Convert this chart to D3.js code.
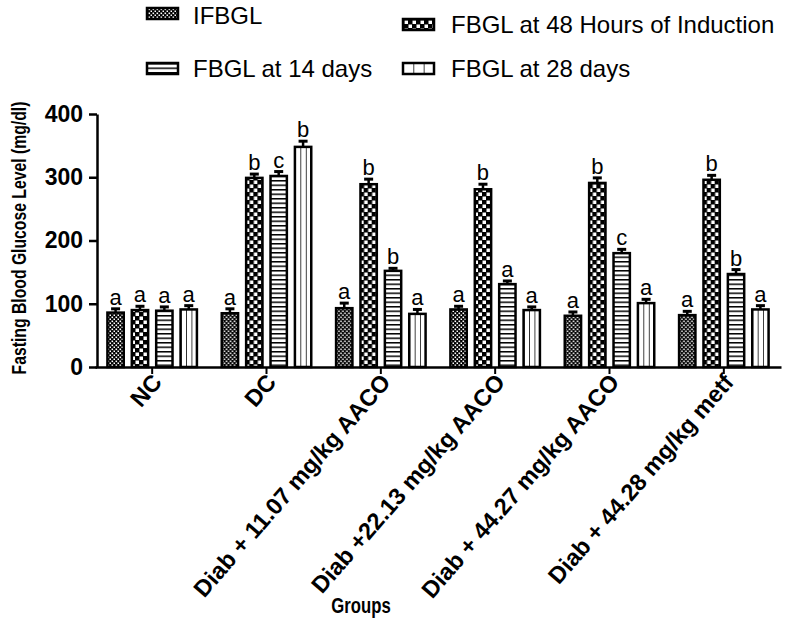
<!DOCTYPE html>
<html><head><meta charset="utf-8">
<script src="https://cdn.jsdelivr.net/npm/d3@7"></script>
<style>body{margin:0;background:#fff} svg{display:block}</style>
</head><body>
<svg id="chart" width="792" height="621"></svg>
<script>
const groups = ["NC","DC","Diab + 11.07 mg/kg AACO","Diab +22.13 mg/kg AACO","Diab + 44.27 mg/kg AACO","Diab + 44.28 mg/kg metf"];
const seriesNames = ["IFBGL","FBGL at 48 Hours of Induction","FBGL at 14 days","FBGL at 28 days"];
const ifbgl   = [86, 85, 93, 91, 81, 82];
const fbgl48h = [90, 299, 289, 281, 291, 296];
const fbgl14  = [89, 302, 152, 131, 180, 147];
const fbgl28  = [91, 348, 84, 90, 101, 91];
const errIfbgl   = [6, 7, 8, 5, 6, 6];
const errFbgl48h = [6, 6, 8, 8, 8, 7];
const errFbgl14  = [6, 7, 4, 5, 6, 7];
const errFbgl28  = [6, 9, 7, 5, 6, 6];
const letIfbgl   = ["a","a","a","a","a","a"];
const letFbgl48h = ["a","b","b","b","b","b"];
const letFbgl14  = ["a","c","b","a","c","b"];
const letFbgl28  = ["a","b","a","a","a","a"];
const yTicks = [0, 100, 200, 300, 400];
const yTitle = "Fasting Blood Glucose Level (mg/dl)";
const xTitle = "Groups";

const values = [ifbgl, fbgl48h, fbgl14, fbgl28];
const errs = [errIfbgl, errFbgl48h, errFbgl14, errFbgl28];
const lets = [letIfbgl, letFbgl48h, letFbgl14, letFbgl28];
const patIds = ["pFine", "pCheck", "pHoriz", "pVert"];

const FONT = "'Liberation Sans', Arial, Helvetica, sans-serif";
const svg = d3.select("#chart");

// patterns
const defs = svg.append("defs");
const p1 = defs.append("pattern").attr("id","pFine").attr("patternUnits","userSpaceOnUse").attr("width",4).attr("height",4);
p1.append("rect").attr("width",4).attr("height",4).attr("fill","#000");
p1.append("rect").attr("x",0.5).attr("y",0.5).attr("width",1.6).attr("height",1.6).attr("fill","#fff");
p1.append("rect").attr("x",2.5).attr("y",2.5).attr("width",1.6).attr("height",1.6).attr("fill","#fff");

const p2 = defs.append("pattern").attr("id","pCheck").attr("patternUnits","userSpaceOnUse").attr("width",8).attr("height",8);
p2.append("rect").attr("width",8).attr("height",8).attr("fill","#000");
p2.append("rect").attr("x",0.5).attr("y",0.5).attr("width",3.5).attr("height",3.5).attr("fill","#fff");
p2.append("rect").attr("x",4.5).attr("y",4.5).attr("width",3.5).attr("height",3.5).attr("fill","#fff");

const p3 = defs.append("pattern").attr("id","pHoriz").attr("patternUnits","userSpaceOnUse").attr("width",8).attr("height",4.5);
p3.append("rect").attr("width",8).attr("height",4.5).attr("fill","#fff");
p3.append("rect").attr("y",0).attr("width",8).attr("height",1.5).attr("fill","#000");

const p4 = defs.append("pattern").attr("id","pVert").attr("patternUnits","objectBoundingBox").attr("width",1/3).attr("height",1);
p4.append("rect").attr("width",40).attr("height",2000).attr("fill","#fff");
p4.append("rect").attr("x",-0.75).attr("width",1.5).attr("height",2000).attr("fill","#000");

// scales
const y = d3.scaleLinear().domain([0, 400]).range([367, 114]);
const x0 = d3.scaleBand().domain(groups).range([95, 781]);
const span = 89.5;
const x1 = d3.scaleBand().domain(d3.range(seriesNames.length))
  .range([(x0.bandwidth()-span)/2, (x0.bandwidth()+span)/2]).paddingInner(0.33).paddingOuter(0);

// bars
const data = groups.map((g, gi) => ({g, bars: seriesNames.map((s, si) => ({si, v: values[si][gi], e: errs[si][gi], l: lets[si][gi]}))}));
const gG = svg.append("g").selectAll("g").data(data).join("g")
  .attr("transform", d => `translate(${x0(d.g)},0)`);
const bar = gG.selectAll("g").data(d => d.bars).join("g");
bar.append("line")
  .attr("x1", d => x1(d.si) + x1.bandwidth()/2).attr("x2", d => x1(d.si) + x1.bandwidth()/2)
  .attr("y1", d => y(d.v)).attr("y2", d => y(d.v + d.e))
  .attr("stroke","#000").attr("stroke-width",2.5);
bar.append("line")
  .attr("x1", d => x1(d.si) + x1.bandwidth()/2 - 4.5).attr("x2", d => x1(d.si) + x1.bandwidth()/2 + 4.5)
  .attr("y1", d => y(d.v + d.e)).attr("y2", d => y(d.v + d.e))
  .attr("stroke","#000").attr("stroke-width",3);
bar.append("rect")
  .attr("x", d => x1(d.si)).attr("width", x1.bandwidth())
  .attr("y", d => y(d.v)).attr("height", d => y(0) - y(d.v))
  .attr("fill", d => `url(#${patIds[d.si]})`)
  .attr("stroke","#000").attr("stroke-width",2.5);
bar.append("text")
  .attr("x", d => x1(d.si) + x1.bandwidth()/2)
  .attr("y", d => y(d.v + d.e) - 4)
  .attr("text-anchor","middle").attr("font-family",FONT).attr("font-size",22)
  .text(d => d.l);

// y axis
const yAxis = svg.append("g").attr("transform","translate(97,0)")
  .call(d3.axisLeft(y).tickValues(yTicks).tickSize(8).tickSizeOuter(0).tickPadding(6));
yAxis.select(".domain").attr("stroke-width",2.5);
yAxis.selectAll(".tick line").attr("stroke-width",2.5);
yAxis.selectAll("text").attr("font-family",FONT).attr("font-size",23).attr("font-weight","bold").attr("fill","#000");

// x axis
const xAxis = svg.append("g").attr("transform","translate(0,367)")
  .call(d3.axisBottom(x0).tickSize(7).tickSizeOuter(0));
xAxis.select(".domain").attr("stroke-width",2.5);
xAxis.selectAll(".tick line").attr("stroke-width",2);
xAxis.selectAll("text").attr("font-family",FONT).attr("font-size",23.5).attr("font-weight","bold").attr("fill","#000")
  .attr("text-anchor","end").attr("x",0).attr("y",0).attr("dy",0)
  .attr("transform","translate(11,16) rotate(-49)");

// axis titles
svg.append("text").attr("transform","translate(26,238) rotate(-90) scale(0.75,1)")
  .attr("text-anchor","middle").attr("font-family",FONT).attr("font-size",21).attr("font-weight","bold")
  .text(yTitle);
svg.append("text").attr("transform","translate(361,613) scale(0.76,1)")
  .attr("text-anchor","middle").attr("font-family",FONT).attr("font-size",22).attr("font-weight","bold")
  .text(xTitle);

// legend
const legPos = [[147, 8, 193, 24], [403, 19, 451, 33], [147, 63, 193, 77], [403, 63, 451, 77]];
const leg = svg.append("g").selectAll("g").data(seriesNames).join("g");
leg.append("rect")
  .attr("x",(d,i)=>legPos[i][0]).attr("y",(d,i)=>legPos[i][1])
  .attr("width",31).attr("height",11)
  .attr("fill",(d,i)=>`url(#${patIds[i]})`).attr("stroke","#000").attr("stroke-width",2.5);
leg.append("text")
  .attr("x",(d,i)=>legPos[i][2]).attr("y",(d,i)=>legPos[i][3])
  .attr("font-family",FONT).attr("font-size",24).text(d=>d);
</script>
</body></html>
